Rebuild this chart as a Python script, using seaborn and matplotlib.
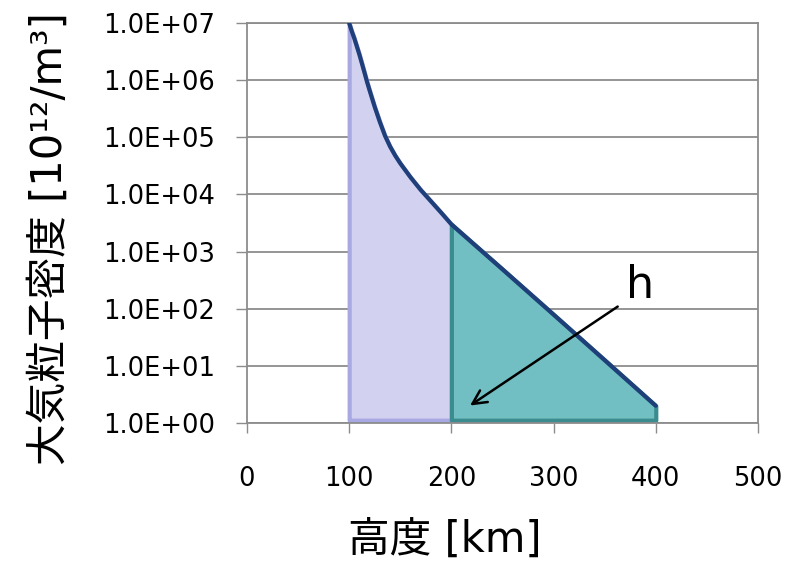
import numpy as np
import seaborn as sns
import matplotlib
matplotlib.use("Agg")
import matplotlib.pyplot as plt
from matplotlib.ticker import FuncFormatter, NullLocator

# altitude [km] and atmospheric particle density [10^12/m^3]
altitude_km = [100, 102.5, 105, 107.5, 110, 112.5, 115, 117.5, 120, 125, 130, 135, 140, 145,
               150, 160, 170, 180, 190, 200, 250, 300, 350, 400]
density = [1.0e7, 7.2e6, 5.4e6, 3.9e6, 2.8e6, 1.95e6, 1.35e6, 9.3e5, 6.6e5, 3.4e5, 1.86e5,
           1.07e5, 6.9e4, 4.8e4, 3.5e4, 2.0e4, 1.2e4, 7.6e3, 4.8e3, 3.0e3, 4.9e2, 7.9e1, 1.26e1, 2.0]
x_ticks = [0, 100, 200, 300, 400, 500]
y_ticks = [1e0, 1e1, 1e2, 1e3, 1e4, 1e5, 1e6, 1e7]

sns.set_style("white")
plt.rcParams['font.family'] = ['DejaVu Sans', 'Noto Sans CJK JP']
plt.rcParams['text.color'] = 'black'
plt.rcParams['axes.labelcolor'] = 'black'

alt = np.array(altitude_km)
dens = np.array(density)

fig = plt.figure(figsize=(7.85, 5.68), dpi=100)
ax = fig.add_axes([0.3146, 0.2553, 0.651, 0.7042])

# shaded regions under the curve
ax.fill_between(alt, dens, 1.12, where=(alt <= 200), facecolor='#D2D2F0',
                edgecolor='#A8A8E2', linewidth=3, zorder=1)
ax.fill_between(alt, dens, 1.12, where=(alt >= 200), facecolor='#72BFC3',
                edgecolor='#3A8C8E', linewidth=3, zorder=2)

sns.lineplot(x=altitude_km, y=density, color='#1F3F7A', linewidth=3, ax=ax, zorder=3)

ax.set_yscale('log')
ax.set_xlim(0, 500)
ax.set_ylim(1, 1e7)
ax.set_xticks(x_ticks)
ax.set_yticks(y_ticks)
ax.yaxis.set_minor_locator(NullLocator())
ax.yaxis.set_major_formatter(FuncFormatter(lambda v, p: f"{v:.1E}"))

ax.set_axisbelow(True)
ax.yaxis.grid(True, color='#8C8C8C', linewidth=1.3)
ax.xaxis.grid(False)
for s in ax.spines.values():
    s.set_color('#8C8C8C')
    s.set_linewidth(1.3)

ax.tick_params(axis='y', direction='out', length=8, width=1, color='#8C8C8C',
               labelcolor='black', labelsize=18.5, pad=15, left=True)
ax.tick_params(axis='x', direction='out', length=7, width=1, color='#8C8C8C',
               labelcolor='black', labelsize=18.5, pad=24, bottom=True)

ax.set_xlabel('高度 [km]', fontsize=30)
ax.set_ylabel('大気粒子密度 [10¹²/m³]', fontsize=30)
ax.xaxis.set_label_coords(0.387, -0.24)
ax.yaxis.set_label_coords(-0.345, 0.46)

ax.annotate('', xy=(216, 1.9), xytext=(365, 116),
            arrowprops=dict(arrowstyle='->', color='black', lw=1.8, mutation_scale=25))
ax.text(385, 257, 'h', fontsize=32, ha='center', va='center')

fig.savefig('out.png', dpi=100)
